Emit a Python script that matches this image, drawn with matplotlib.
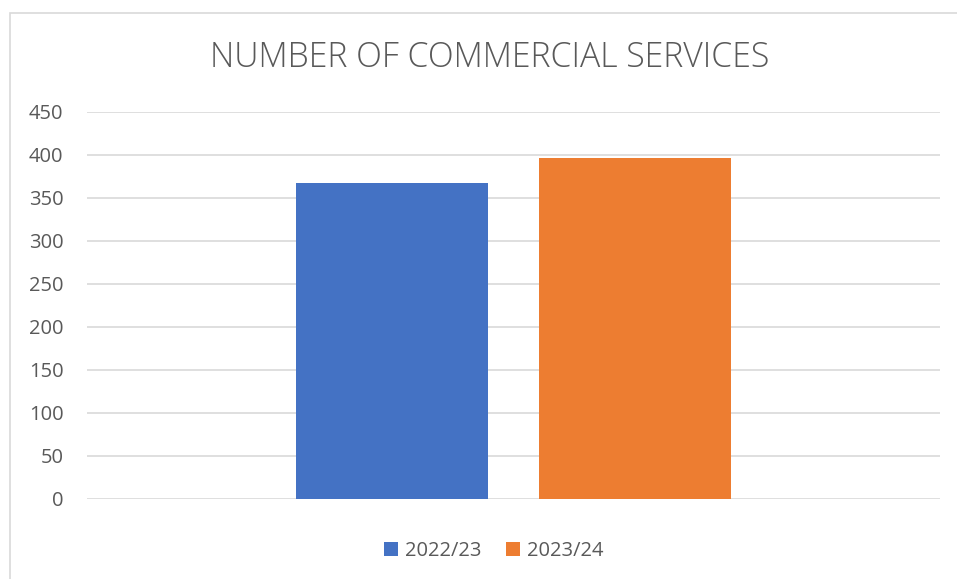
import matplotlib.pyplot as plt
from matplotlib.patches import Rectangle

# data
categories = ['']
years = ['2022/23', '2023/24']
services = [367, 396]
colors = ['#4472C4', '#ED7D31']
y_ticks = [0, 50, 100, 150, 200, 250, 300, 350, 400, 450]

W, H = 957, 579
fig = plt.figure(figsize=(W / 100, H / 100), dpi=100)
plt.rcParams['font.family'] = ['Open Sans', 'DejaVu Sans']

# outer chart border (light grey), runs off right and bottom edges
fig.patches.append(Rectangle((10 / W, -0.05), 1.1, 1 - 13 / H + 0.05,
                             transform=fig.transFigure, fill=False,
                             edgecolor='#D9D9D9', linewidth=1.2))

ax = fig.add_axes([87 / W, 1 - 498.7 / H, (940 - 87) / W, (498.7 - 111.7) / H])

bar_w = 0.225
offsets = [-0.1424, 0.1424]
for yr, val, col, off in zip(years, services, colors, offsets):
    ax.bar(off, val, width=bar_w, color=col, label=yr, zorder=3)

ax.set_xlim(-0.5, 0.5)
ax.set_ylim(0, 450)
ax.set_yticks(y_ticks)
ax.set_xticks([])
ax.grid(axis='y', color='#D9D9D9', linewidth=1.2, zorder=0)
for s in ax.spines.values():
    s.set_visible(False)
ax.tick_params(axis='y', length=0, labelsize=14.5, labelcolor='#595959', pad=17)

fig.text(490 / W, 1 - 58 / H, 'NUMBER OF COMMERCIAL SERVICES', ha='center', va='center',
         fontsize=24.3, color='#595959', fontweight='light')

leg = fig.legend(loc='center', bbox_to_anchor=(494 / W, 1 - 551 / H), ncol=2, frameon=False,
                 fontsize=14.5, handlelength=0.7, handleheight=0.7, handletextpad=0.35,
                 columnspacing=1.2)
for t in leg.get_texts():
    t.set_color('#595959')

fig.savefig('out.png', dpi=100)
